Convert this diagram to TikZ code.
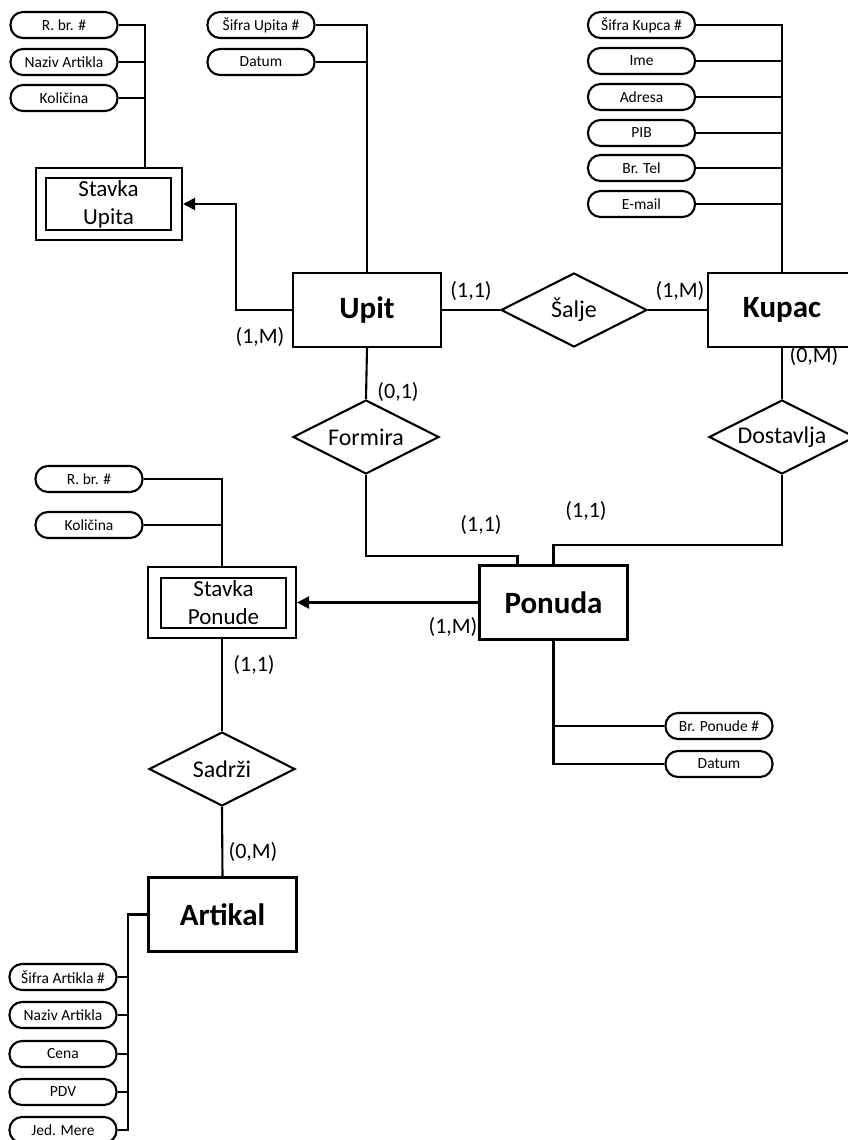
\documentclass[tikz,border=0pt]{standalone}
\usepackage{fontspec}
\setmainfont{Carlito}
\usetikzlibrary{shapes.geometric,arrows.meta,calc}
\begin{document}
\begin{tikzpicture}[x=1pt,y=-1pt,
  line width=2.1pt,
  attr/.style={draw,rounded corners=12.5pt,minimum width=107,minimum height=26,inner sep=0,font=\fontsize{15.5}{17}\selectfont},
  ent/.style={draw,minimum width=148,minimum height=74,inner sep=0,font=\fontsize{31}{36}\selectfont\bfseries},
  rel/.style={draw,diamond,minimum width=146,minimum height=74,inner sep=0,font=\fontsize{24}{28}\selectfont},
  weakout/.style={draw,minimum width=146,minimum height=72,inner sep=0},
  weakin/.style={draw,minimum width=125,minimum height=52,inner sep=0,align=center,font=\fontsize{23}{28}\selectfont},
  card/.style={font=\fontsize{22}{26}\selectfont,inner sep=0},
  arr/.style={-{Triangle[length=12pt,width=12pt]}}
]
\useasboundingbox (0,0) rectangle (848,1140);
\clip (0,0) rectangle (848,1140);

% Entities
\node[ent] (upit) at (367,310) {Upit};
\node[ent] (kupac) at (782,310) {Kupac};
\node[ent] (ponuda) at (553.5,602.5) {Ponuda};
\node[ent] (artikal) at (222.5,914.5) {Artikal};

% Weak entities
\node[weakout] (su) at (109,204) {};
\node[weakin] (sui) at (108.5,204) {Stavka\\Upita};
\node[weakout,minimum width=148,minimum height=71] (sp) at (222,602.5) {};
\node[weakin,minimum height=50] (spi) at (223.5,603) {Stavka\\Ponude};

% Relationships
\node[rel] (salje) at (574,310) {\makebox[0pt]{Šalje}};
\node[rel] (formira) at (366,437) {\makebox[0pt]{Formira}};
\node[rel] (dostavlja) at (782,437) {\makebox[0pt]{Dostavlja}};
\node[rel] (sadrzi) at (222,769) {\makebox[0pt]{Sadrži}};

% Attributes of Stavka Upita
\node[attr] (a1) at (64,25) {R. br. \#};
\node[attr] (a2) at (64,62) {Naziv Artikla};
\node[attr] (a3) at (64,98) {Količina};
\coordinate (suj) at (145,168);
\draw (a1.east) -| (suj);
\draw (a2.east) -- (a2.east -| suj);
\draw (a3.east) -- (a3.east -| suj);

% Attributes of Upit
\node[attr] (u1) at (261,25) {Šifra Upita \#};
\node[attr] (u2) at (261,62) {Datum};
\draw (u1.east) -| (upit.north);
\draw (u2.east) -- (u2.east -| upit.north);

% Attributes of Kupac
\node[attr] (k1) at (641.5,25) {Šifra Kupca \#};
\node[attr] (k2) at (641.5,61) {Ime};
\node[attr] (k3) at (641.5,97) {Adresa};
\node[attr] (k4) at (641.5,133) {PIB};
\node[attr] (k5) at (641.5,168) {Br. Tel};
\node[attr] (k6) at (641.5,204) {E-mail};
\draw (k1.east) -| (kupac.north);
\foreach \k in {k2,k3,k4,k5,k6} \draw (\k.east) -- (\k.east -| kupac.north);

% Attributes of Stavka Ponude
\node[attr] (s1) at (89,479) {R. br. \#};
\node[attr] (s2) at (89,525) {Količina};
\draw (s1.east) -| (sp.north);
\draw (s2.east) -- (s2.east -| sp.north);

% Attributes of Ponuda
\node[attr] (p1) at (719,726) {Br. Ponude \#};
\node[attr] (p2) at (719,764) {Datum};
\draw (ponuda.south) |- (p2.west);
\draw (p1.west) -- (p1.west -| ponuda.south);

% Attributes of Artikal
\node[attr] (r1) at (63,977) {Šifra Artikla \#};
\node[attr] (r2) at (63,1015) {Naziv Artikla};
\node[attr] (r3) at (63,1054) {Cena};
\node[attr] (r4) at (63,1092) {PDV};
\node[attr] (r5) at (63,1130) {Jed. Mere};
\coordinate (aj) at (128,914.5);
\draw (artikal.west) -- (aj) |- (r5.east);
\foreach \r in {r1,r2,r3,r4} \draw (\r.east) -- (\r.east -| aj);

% Relationship connectors
\draw[arr] (upit.west) -- ++(-56,0) |- (su.east);
\draw (upit.east) -- (salje.west);
\draw (salje.east) -- (kupac.west);
\draw (upit.south) -- (formira.north);
\draw (kupac.south) -- (dostavlja.north);
\coordinate (pn1) at ([xshift=-36pt]ponuda.north);
\draw (formira.south) -- (formira.south |- 0,556) -| (pn1);
\draw (dostavlja.south) -- (dostavlja.south |- 0,545) -| (ponuda.north);
\draw[arr] (ponuda.west) -- (sp.east);
\draw (sp.south) -- (sadrzi.north);
\draw (sadrzi.south) -- (artikal.north);

% Cardinalities
\node[card] (c1) at (260,337) {(1,M)};
\node[card] (c2) at (471,291) {(1,1)};
\node[card] (c3) at (680,291) {(1,M)};
\node[card] (c4) at (814,356) {(0,M)};
\node[card] (c5) at (398,392) {(0,1)};
\node[card] (c6) at (481,525) {(1,1)};
\node[card] (c7) at (586,511) {(1,1)};
\node[card] (c8) at (453,627) {(1,M)};
\node[card] (c9) at (254,665) {(1,1)};
\node[card] (c10) at (253,852) {(0,M)};
\end{tikzpicture}
\end{document}
